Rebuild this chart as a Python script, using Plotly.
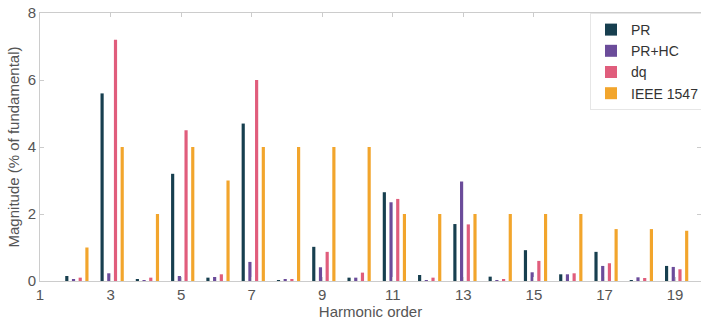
import plotly.graph_objects as go

harmonics = list(range(2, 20))
pr =    [0.15, 5.6, 0.05, 3.2, 0.10, 4.7, 0.03, 1.02, 0.10, 2.65, 0.18, 1.70, 0.13, 0.92, 0.20, 0.87, 0.02, 0.45]
pr_hc = [0.04, 0.23, 0.03, 0.15, 0.12, 0.57, 0.05, 0.41, 0.10, 2.35, 0.03, 2.97, 0.03, 0.26, 0.20, 0.45, 0.11, 0.42]
dq =    [0.10, 7.2, 0.10, 4.5, 0.20, 6.0, 0.04, 0.87, 0.25, 2.45, 0.10, 1.69, 0.05, 0.60, 0.23, 0.53, 0.09, 0.35]
ieee =  [1.0, 4.0, 2.0, 4.0, 3.0, 4.0, 4.0, 4.0, 4.0, 2.0, 2.0, 2.0, 2.0, 2.0, 2.0, 1.55, 1.55, 1.5]

series_names = ["PR", "PR+HC", "dq", "IEEE 1547"]
series_vals = [pr, pr_hc, dq, ieee]
colors = ["#173f4f", "#6b4c9a", "#e05d7c", "#f2a52c"]
centres = [-0.24, -0.05, 0.14, 0.33]
bw = 0.09

tick_vals = [1, 3, 5, 7, 9, 11, 13, 15, 17, 19]

fig = go.Figure()
for name, vals, col, c in zip(series_names, series_vals, colors, centres):
    fig.add_trace(go.Bar(x=harmonics, y=vals, name=name, marker_color=col,
                         marker_line_width=0, width=bw, offset=c - bw / 2))

axis_font = dict(family="Liberation Sans, Arial, sans-serif", size=15, color="#555555")
fig.update_layout(
    width=701, height=328,
    margin=dict(l=40, r=0, t=13, b=47, autoexpand=False),
    barmode="overlay",
    plot_bgcolor="white", paper_bgcolor="white",
    font=axis_font,
    showlegend=True,
    legend=dict(x=(590 - 40) / 661, xanchor="left", y=1.0, yanchor="top",
                bgcolor="white", bordercolor="#e6e6e6", borderwidth=1,
                font=dict(family="Liberation Sans, Arial, sans-serif", size=14, color="#333333"),
                tracegroupgap=0, itemwidth=30),
    xaxis=dict(range=[1, 1 + 661 / 35.28], tickvals=tick_vals, ticks="inside", ticklen=4,
               tickcolor="#cccccc", showline=True, linecolor="#cccccc", mirror="ticks",
               showgrid=False, zeroline=False, tickfont=axis_font,
               title=dict(text="Harmonic order", standoff=4, font=axis_font)),
    yaxis=dict(range=[0, 8], tickvals=[0, 2, 4, 6, 8], ticks="inside", ticklen=4,
               tickcolor="#cccccc", showline=True, linecolor="#cccccc", mirror="ticks",
               showgrid=False, zeroline=False, tickfont=axis_font,
               title=dict(text="Magnitude (% of fundamental)", standoff=4, font=axis_font)),
)
fig.write_html("out.html")
